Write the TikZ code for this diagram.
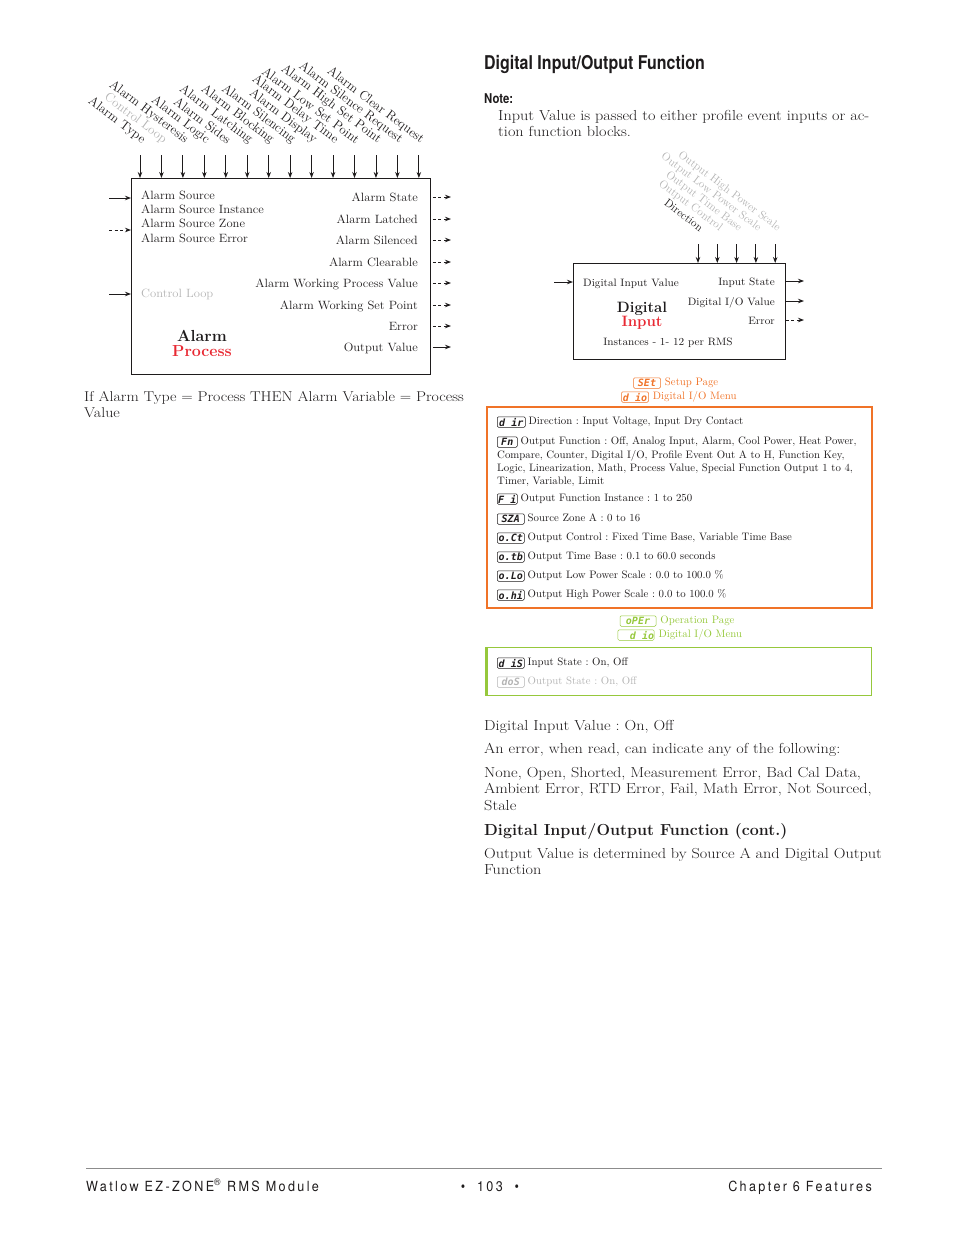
\documentclass[tikz,border=0pt]{standalone}
\usepackage{fontspec}
\usepackage{tikz}
\usetikzlibrary{arrows.meta,positioning}
\newfontfamily\bodyfont{Latin Modern Roman}[FakeStretch=1.12]
\newfontfamily\boxfont{Latin Modern Roman}[FakeStretch=1.05]
\newfontfamily\headfont{TeX Gyre Heros}[FakeStretch=0.84]
\newfontfamily\footfont{TeX Gyre Heros}[FakeStretch=0.9,LetterSpace=17]
\newfontfamily\segfont{DejaVu Sans Mono}
\definecolor{inkgray}{RGB}{30,27,28}
\definecolor{procred}{RGB}{232,40,50}
\definecolor{setorange}{RGB}{240,115,40}
\definecolor{opgreen}{RGB}{150,200,60}
\definecolor{dimgray}{RGB}{180,180,180}
\definecolor{rulegray}{RGB}{140,140,140}
\newcommand\boxsize{\boxfont\fontsize{12}{14}\selectfont}
\newcommand\bodysize{\bodyfont\fontsize{14.5}{16.5}\selectfont}
\newcommand\menusize{\fontsize{10.8}{13}\selectfont}
\tikzset{
  fnblock/.style={rectangle, draw=inkgray, line width=0.9pt, inner sep=0pt},
  boxtext/.style={font=\boxsize, text=inkgray, inner sep=0pt},
  slanttext/.style={font=\fontsize{13}{14}\selectfont, text=inkgray, inner sep=0pt, rotate=-37, anchor=east},
  blocktitle/.style={font=\fontsize{16}{16}\selectfont\bfseries, inner sep=0pt},
  bodytext/.style={font=\bodysize, text=inkgray, inner sep=0pt, align=left},
  menutext/.style={font=\menusize, text=inkgray, inner sep=0pt, text height=7.4pt, text depth=2.4pt},
  segbox/.style={rectangle, draw=inkgray, rounded corners=1.2pt, line width=0.5pt, inner sep=0pt,
                 minimum width=27pt, minimum height=10.5pt, text=inkgray,
                 font=\segfont\bfseries\itshape\fontsize{10}{10}\selectfont},
  arrow/.style={-{Stealth[length=6pt,width=4.5pt]}, line width=0.9pt, inkgray},
  dasharrow/.style={arrow, dash pattern=on 3pt off 2.5pt},
}
\begin{document}
\frenchspacing
\begin{tikzpicture}[x=1pt, y=-1pt]
\useasboundingbox (0,0) rectangle (954,1235);

% alarm block
\node[fnblock, minimum width=299, minimum height=196, anchor=north west] (alarm) at (131,178) {};
\foreach \lbl/\col [count=\n from 0] in {Alarm Type/inkgray, Control Loop/dimgray,
    Alarm Hysteresis/inkgray, Alarm Logic/inkgray, Alarm Sides/inkgray, Alarm Latching/inkgray,
    Alarm Blocking/inkgray, Alarm Silencing/inkgray, Alarm Display/inkgray, Alarm Delay Time/inkgray,
    Alarm Low Set Point/inkgray, Alarm High Set Point/inkgray, Alarm Silence Request/inkgray,
    Alarm Clear Request/inkgray} {
  \coordinate (atop\n) at ({140+\n*21.45},155);
  \draw[arrow] (atop\n) -- (atop\n |- alarm.north);
  \node[slanttext, text=\col] (alab\n) at ({144+\n*21.45},141) {\lbl};
}
\node[boxtext, anchor=base west] (asrc) at (141,199) {Alarm Source};
\node[boxtext, anchor=base west] (asinst) at (141,213) {Alarm Source Instance};
\node[boxtext, anchor=base west] (aszone) at (141,227) {Alarm Source Zone};
\node[boxtext, anchor=base west] (aserr) at (141,242) {Alarm Source Error};
\node[boxtext, anchor=base west, text=dimgray] (aloop) at (141,297) {Control Loop};
\coordinate (ain1) at (109,198);
\coordinate (ain2) at (109,230);
\coordinate (ain3) at (109,294);
\draw[arrow] (ain1) -- (ain1 -| alarm.west);
\draw[dasharrow] (ain2) -- (ain2 -| alarm.west);
\draw[arrow] (ain3) -- (ain3 -| alarm.west);
\foreach \lbl/\yy/\sty [count=\n] in {Alarm State/197/dasharrow, Alarm Latched/219/dasharrow,
    Alarm Silenced/240/dasharrow, Alarm Clearable/262/dasharrow,
    Alarm Working Process Value/283/dasharrow, Alarm Working Set Point/305/dasharrow,
    Error/326/dasharrow, Output Value/347/arrow} {
  \node[boxtext, anchor=base east] (aout\n) at (418,\yy+4) {\lbl};
  \coordinate (aend\n) at (451,\yy);
  \draw[\sty, shorten <=2pt] (alarm.east |- aend\n) -- (aend\n);
}
\node[blocktitle, text=inkgray] (alname) at (202,336) {Alarm};
\node[blocktitle, text=procred] (alkind) at (202,351) {Process};
\node[bodytext, font=\bodyfont\fontsize{14.2}{16}\selectfont, anchor=north west] (alnote) at (84,391)
  {If Alarm Type = Process THEN Alarm Variable = Process\\Value};

% digital input block
\node[font=\headfont\bfseries\fontsize{19}{21}\selectfont, text=inkgray, inner sep=0pt, anchor=base west]
  (dtitle) at (484,69) {Digital Input/Output Function};
\node[font=\headfont\bfseries\fontsize{13.5}{15}\selectfont, text=inkgray, inner sep=0pt, anchor=base west]
  (dnote) at (484,103) {Note:};
\node[bodytext, anchor=north west] (dnotetxt) at (498,110)
  {Input Value is passed to either profile event inputs or ac-\\tion function blocks.};

\node[fnblock, minimum width=212, minimum height=96, anchor=north west] (dinput) at (573,263) {};
\foreach \lbl/\col [count=\n from 0] in {Direction/inkgray, Output Control/dimgray,
    Output Time Base/dimgray, Output Low Power Scale/dimgray, Output High Power Scale/dimgray} {
  \coordinate (dtop\n) at ({698+\n*19.3},244);
  \draw[arrow] (dtop\n) -- (dtop\n |- dinput.north);
  \node[slanttext, font=\fontsize{11.4}{12}\selectfont, text=\col] (dlab\n) at ({702+\n*19.3},229) {\lbl};
}
\node[boxtext, font=\boxfont\fontsize{10.7}{13}\selectfont, anchor=base west] (divalue) at (583,286) {Digital Input Value};
\coordinate (din1) at (554,282);
\draw[arrow] (din1) -- (din1 -| dinput.west);
\foreach \lbl/\yy/\sty [count=\n] in {Input State/281/arrow, {Digital I/O Value}/301/arrow, Error/320/dasharrow} {
  \node[boxtext, font=\boxfont\fontsize{10.7}{13}\selectfont, anchor=base east] (dout\n) at (775,\yy+4) {\lbl};
  \coordinate (dend\n) at (804,\yy);
  \draw[\sty] (dinput.east |- dend\n) -- (dend\n);
}
\node[blocktitle, font=\fontsize{15}{15}\selectfont\bfseries, text=inkgray] (diname) at (642,309) {Digital};
\node[blocktitle, font=\fontsize{15}{15}\selectfont\bfseries, text=procred] (dikind) at (642,323) {Input};
\node[boxtext, font=\boxfont\fontsize{10.7}{13}\selectfont] (dinst) at (668,343) {Instances - 1- 12 per RMS};

% setup page menu
\node[segbox, draw=setorange, text=setorange] (setic) at (647,383) {SEt};
\node[menutext, text=setorange, right=4pt of setic] (setpg) {Setup Page};
\node[segbox, draw=setorange, text=setorange] (sdioic) at (635,397) {d io};
\node[menutext, text=setorange, right=4pt of sdioic] (sdio) {Digital I/O Menu};
\node[draw=setorange, line width=1.6pt, minimum width=385, minimum height=201, inner sep=0pt,
  anchor=north west] (setbox) at (486,406) {};
\node[segbox, anchor=west, minimum width=28pt] (m1) at (497,422) {d ir};
\node[menutext, right=3pt of m1] (m1t) {Direction : Input Voltage, Input Dry Contact};
\node[segbox, anchor=west, minimum width=20pt] (m2) at (497,442) {Fn};
\node[menutext, right=3pt of m2] (m2t) {Output Function : Off, Analog Input, Alarm, Cool Power, Heat Power,};
\node[font=\menusize, text=inkgray, inner sep=0pt, align=left, anchor=north west]
  (m2c) at (497,450) {Compare, Counter, Digital I/O, Profile Event Out A to H, Function Key,\\
  Logic, Linearization, Math, Process Value, Special Function Output 1 to 4,\\Timer, Variable, Limit};
\node[segbox, anchor=west, minimum width=20pt] (m3) at (497,499) {F i};
\node[menutext, right=3pt of m3] (m3t) {Output Function Instance : 1 to 250};
\node[segbox, anchor=west] (m4) at (497,519) {SZA};
\node[menutext, right=3pt of m4] (m4t) {Source Zone A : 0 to 16};
\node[segbox, anchor=west] (m5) at (497,538) {o.Ct};
\node[menutext, right=3pt of m5] (m5t) {Output Control : Fixed Time Base, Variable Time Base};
\node[segbox, anchor=west] (m6) at (497,557) {o.tb};
\node[menutext, right=3pt of m6] (m6t) {Output Time Base : 0.1 to 60.0 seconds};
\node[segbox, anchor=west] (m7) at (497,576) {o.Lo};
\node[menutext, right=3pt of m7] (m7t) {Output Low Power Scale : 0.0 to 100.0 \%};
\node[segbox, anchor=west] (m8) at (497,595) {o.hi};
\node[menutext, right=3pt of m8] (m8t) {Output High Power Scale : 0.0 to 100.0 \%};

% operation page menu
\node[segbox, draw=opgreen, text=opgreen, minimum width=36pt] (opic) at (638,621) {oPEr};
\node[menutext, text=opgreen, right=4pt of opic] (oppg) {Operation Page};
\node[segbox, draw=opgreen, text=opgreen, minimum width=36pt] (odioic) at (636,635) {\ \ d io};
\node[menutext, text=opgreen, right=4pt of odioic] (odio) {Digital I/O Menu};
\node[draw=opgreen, line width=0.9pt, minimum width=385, minimum height=48, inner sep=0pt,
  anchor=north west] (opbox) at (486,647) {};
\draw[opgreen, line width=3pt] (opbox.north west) -- (opbox.south west);
\node[segbox, anchor=west] (n1) at (497,663) {d iS};
\node[menutext, right=3pt of n1] (n1t) {Input State : On, Off};
\node[segbox, anchor=west, draw=dimgray, text=dimgray] (n2) at (497,682) {doS};
\node[menutext, text=dimgray, right=3pt of n2] (n2t) {Output State : On, Off};

% notes below
\node[bodytext, anchor=base west] (divon) at (484,730) {Digital Input Value : On, Off};
\node[bodytext, anchor=base west] (errnote) at (484,753) {An error, when read, can indicate any of the following:};
\node[bodytext, anchor=north west] (errlist) at (484,767)
  {None, Open, Shorted, Measurement Error, Bad Cal Data,\\Ambient Error, RTD Error, Fail, Math Error, Not Sourced,\\Stale};
\node[font=\fontsize{16}{18}\selectfont\bfseries, text=inkgray, inner sep=0pt, anchor=base west]
  (conthead) at (484,835) {Digital Input/Output Function (cont.)};
\node[bodytext, anchor=north west] (outnote) at (484,848)
  {Output Value is determined by Source A and Digital Output\\Function};

% footer
\coordinate (ruleL) at (86,1168);
\coordinate (ruleR) at (882,1168);
\draw[rulegray, line width=0.8pt] (ruleL) -- (ruleR);
\node[font=\footfont\fontsize{14}{16}\selectfont, text=inkgray, inner sep=0pt, anchor=base west]
  (footl) at (86,1191) {Watlow EZ-ZONE\textsuperscript{\textregistered} RMS Module};
\node[font=\footfont\fontsize{14}{16}\selectfont, text=inkgray, inner sep=0pt, anchor=base]
  (footc) at (490,1191) {\textbullet\ \ 103\ \ \textbullet};
\node[font=\footfont\fontsize{14}{16}\selectfont, text=inkgray, inner sep=0pt, anchor=base east]
  (footr) at (872,1191) {Chapter 6 Features};
\end{tikzpicture}
\end{document}
